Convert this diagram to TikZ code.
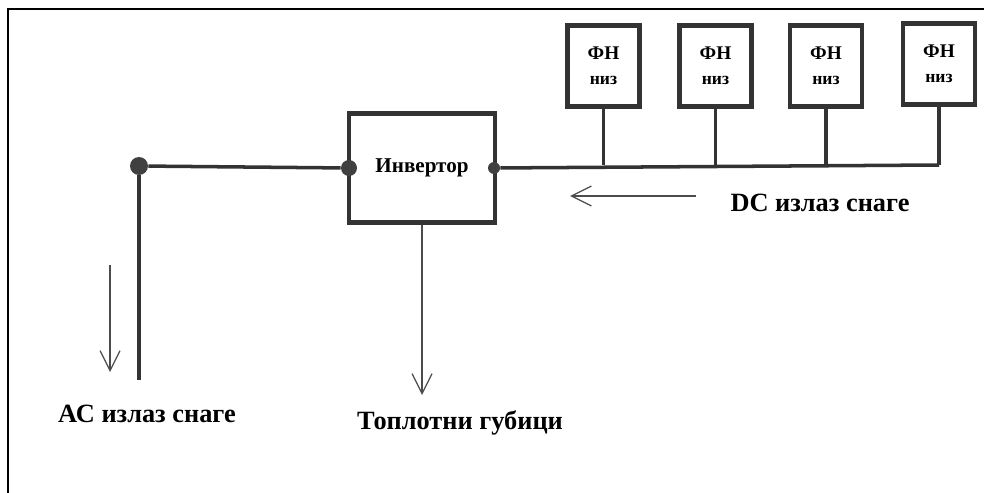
\documentclass[tikz,border=0pt]{standalone}
\usepackage{fontspec}
\setmainfont{Liberation Serif}
\usetikzlibrary{arrows.meta}

\begin{document}
\begin{tikzpicture}[
                        x=0.02cm, y=-0.02cm,
                        every node/.style={font=\bfseries},
                        box/.style={draw=black!80, line width=2.3pt, fill=white, inner sep=0pt},
                        pvbox/.style={box, minimum width=1.44cm, minimum height=1.62cm, align=center, font=\bfseries\fontsize{11}{14}\selectfont},
                        joint/.style={circle, fill=black!75, inner sep=0pt},
                        bus/.style={black!80, line width=2pt},
                        flow/.style={-{Straight Barb[length=4mm,width=4mm]}, black!70, line width=0.7pt},
                        caption/.style={font=\bfseries\fontsize{15}{18}\selectfont}
                    ]
                        \useasboundingbox (0,0) rectangle (984,493);
                        \draw[line width=1pt] (8,493) -- (8,9) -- (984,9);
                        % inverter and the four panels
                        \node[box, minimum width=2.92cm, minimum height=2.18cm, font=\bfseries\fontsize{12}{14}\selectfont] (inv) at (422,168) {Инвертор};
                        \node[pvbox] (pv1) at (603.5,66) {ФН\\{\fontsize{10}{12}\selectfont низ}};
                        \node[pvbox] (pv2) at (715.5,66) {ФН\\{\fontsize{10}{12}\selectfont низ}};
                        \node[pvbox] (pv3) at (826,66) {ФН\\{\fontsize{10}{12}\selectfont низ}};
                        \node[pvbox] (pv4) at (939,64) {ФН\\{\fontsize{10}{12}\selectfont низ}};
                        \node[joint, minimum size=0.36cm] (acdot) at (139,166) {};
                        \node[joint, minimum size=0.32cm] (invin) at (349,168) {};
                        \node[joint, minimum size=0.24cm] (invout) at (494,168) {};
                        \coordinate (acend) at (139,380);
                        \coordinate (busend) at (939,165);
                        \draw[bus] (acdot) -- (invin);
                        \draw[bus] (acdot) -- (acend);
                        \draw[bus] (invout) -- (busend);
                        \draw[bus] (pv1) -- (pv1 |- busend);
                        \draw[bus] (pv2) -- (pv2 |- busend);
                        \draw[bus] (pv3) -- (pv3 |- busend);
                        \draw[bus] (pv4) -- (busend);
                        % power flows
                        \coordinate (acfrom) at (110,265);
                        \coordinate (acto) at (110,372);
                        \coordinate (heatend) at (422,395);
                        \coordinate (dcfrom) at (696,196);
                        \coordinate (dcto) at (570,196);
                        \draw[flow] (acfrom) -- (acto);
                        \draw[flow] (inv) -- (heatend);
                        \draw[flow] (dcfrom) -- (dcto);
                        \node[caption] (aclabel) at (147,414) {АС излаз снаге};
                        \node[caption] (heatlabel) at (460,423) {Топлотни губици};
                        \node[caption] (dclabel) at (820,203) {DC излаз снаге};
                    \end{tikzpicture}
\end{document}
